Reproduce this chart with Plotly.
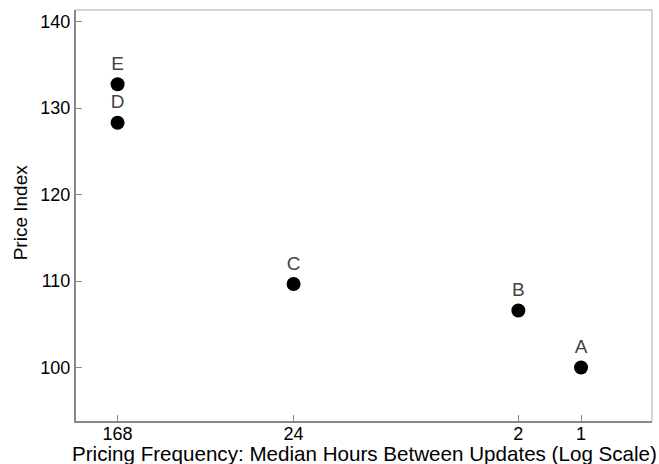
import plotly.graph_objects as go

labels = ["A", "B", "C", "D", "E"]
hours = [1, 2, 24, 168, 168]
price_index = [100.0, 106.6, 109.65, 128.3, 132.75]
tick_vals = [168, 24, 2, 1]
tick_text = ["168", "24", "2", "1"]
y_ticks = [100, 110, 120, 130, 140]

FONT = "Liberation Sans, Arial, sans-serif"

fig = go.Figure()
fig.add_trace(go.Scatter(
    x=hours, y=price_index, mode="markers+text", text=labels,
    textposition="top center",
    textfont=dict(family=FONT, size=19, color="#444444"),
    marker=dict(size=14, color="black"),
    showlegend=False, cliponaxis=False,
))

fig.update_layout(
    width=659, height=464,
    margin=dict(l=76, r=7, t=10, b=43, autoexpand=False),
    plot_bgcolor="white", paper_bgcolor="white",
    font=dict(family=FONT, size=17, color="black"),
)
fig.update_xaxes(
    type="log", range=[2.425, -0.3407],
    tickvals=tick_vals, ticktext=tick_text,
    showgrid=False, zeroline=False,
    ticks="inside", ticklen=6, tickcolor="#888888", tickwidth=1,
    showline=True, linecolor="#888888", linewidth=2,
    tickfont=dict(size=18, color="black"), automargin=False,
    ticklabelstandoff=-5,
)
fig.update_yaxes(
    range=[93.82, 141.33],
    tickvals=y_ticks,
    showgrid=False, zeroline=False,
    ticks="inside", ticklen=6, tickcolor="#888888", tickwidth=1,
    showline=True, linecolor="#888888", linewidth=2,
    tickfont=dict(size=18, color="black"), automargin=False,
)
fig.add_shape(type="line", xref="paper", yref="paper", x0=0, x1=1, y0=1, y1=1,
              line=dict(color="#aaaaaa", width=1))
fig.add_shape(type="line", xref="paper", yref="paper", x0=1, x1=1, y0=0, y1=1,
              line=dict(color="#aaaaaa", width=1))

fig.add_annotation(
    text="Pricing Frequency: Median Hours Between Updates (Log Scale)",
    xref="paper", yref="paper", x=0.5, y=-0.08, xanchor="center", yanchor="middle",
    showarrow=False, font=dict(family=FONT, size=20.6, color="black"),
)
fig.add_annotation(
    text="Price Index", textangle=-90,
    xref="paper", yref="paper", x=-0.097, y=0.508, xanchor="center", yanchor="middle",
    showarrow=False, font=dict(family=FONT, size=19, color="black"),
)

fig.write_html("out.html", post_script="document.body.style.margin='0px';",
               config={"displayModeBar": False})
